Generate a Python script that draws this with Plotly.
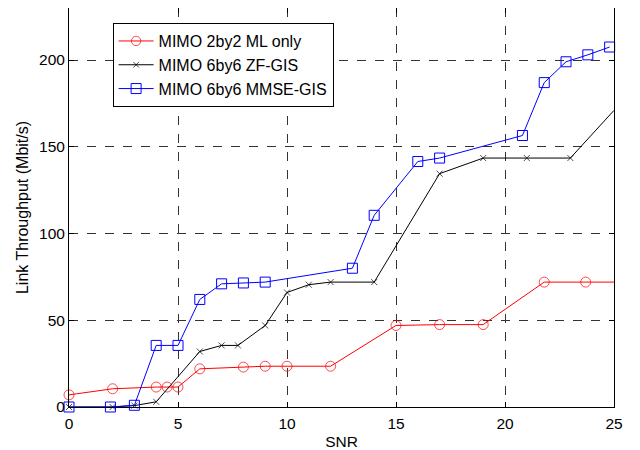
import plotly.graph_objects as go

# Data (last red/black points sit on the right border, unmarked)
ml_x = [0, 2, 4, 4.5, 5, 6, 8, 9, 10, 12, 15, 17, 19, 21.8, 23.7, 25]
ml_y = [7, 10.5, 11.5, 11.5, 11.5, 22, 23, 23.5, 23.5, 23.5, 47, 47.5, 47.5, 72, 72, 72]

zf_x = [0, 2, 3, 4, 6, 7, 7.75, 9, 10, 11, 12, 14, 17, 19, 21, 23, 25]
zf_y = [0, 0, 0.8, 3, 32, 35.5, 35.5, 47, 66, 70.5, 72, 72, 134.5, 143.5, 143.5, 143.5, 171]

mmse_x = [0, 1.9, 3, 4, 5, 6, 7, 8, 9, 13, 14, 16, 17, 20.8, 21.8, 22.8, 23.8, 24.8]
mmse_y = [0, 0, 1, 35.5, 35.5, 62, 71, 71.5, 72, 80, 110.5, 141.5, 143.5, 156.5, 187, 199, 203, 207.5]

x_ticks = [0, 5, 10, 15, 20, 25]
y_ticks = [0, 50, 100, 150, 200]

FONT = "Liberation Sans, Arial, Helvetica, sans-serif"


def sizes(n, s):
    # marker on every point except the border end point
    return [s] * (n - 1) + [0]


fig = go.Figure()
fig.add_trace(go.Scatter(
    x=ml_x, y=ml_y, mode="lines+markers", name="MIMO 2by2 ML only", cliponaxis=False,
    line=dict(color="#ff0000", width=1),
    marker=dict(symbol="circle-open", size=sizes(len(ml_x), 10), color="#ff0000", line=dict(width=1)),
))
fig.add_trace(go.Scatter(
    x=zf_x, y=zf_y, mode="lines+markers", name="MIMO 6by6 ZF-GIS", cliponaxis=False,
    line=dict(color="#000000", width=1),
    marker=dict(symbol="x-thin-open", size=sizes(len(zf_x), 6), color="#000000",
                line=dict(width=1, color="#000000")),
))
fig.add_trace(go.Scatter(
    x=mmse_x, y=mmse_y, mode="lines+markers", name="MIMO 6by6 MMSE-GIS", cliponaxis=False,
    line=dict(color="#0000ff", width=1),
    marker=dict(symbol="square-open", size=10, color="#0000ff", line=dict(width=1)),
))

axis_common = dict(
    showline=True, linecolor="black", linewidth=1, mirror="ticks",
    ticks="inside", ticklen=5, tickcolor="black",
    showgrid=True, gridcolor="#333333", griddash="dash", gridwidth=1,
    zeroline=False, automargin=False,
    tickfont=dict(family=FONT, size=15.5, color="black"),
)

fig.update_layout(
    width=632, height=442,
    margin=dict(l=61, r=26, t=0, b=43),
    paper_bgcolor="white", plot_bgcolor="white",
    font=dict(family=FONT, size=15.5, color="black"),
    xaxis=dict(range=[0, 25], tickvals=x_ticks, ticklabelstandoff=2,
               title=dict(text="SNR", standoff=5, font=dict(size=15.5)), **axis_common),
    yaxis=dict(range=[0, 230], tickvals=y_ticks,
               title=dict(text="Link Throughput (Mbit/s)", standoff=6, font=dict(size=16)), **axis_common),
    legend=dict(x=0.08, y=0.857, xanchor="left", yanchor="middle",
                bgcolor="white", bordercolor="black", borderwidth=1,
                font=dict(size=16), tracegroupgap=0, itemwidth=35),
    showlegend=True,
)

fig.write_html("out.html")
